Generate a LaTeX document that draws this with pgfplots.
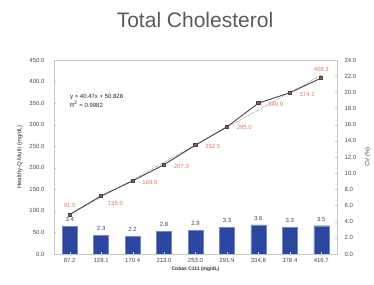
\documentclass[border=0pt]{standalone}
\usepackage{fontspec}
\setmainfont{Liberation Sans}
\usepackage{pgfplots}
\pgfplotsset{compat=1.18}
\definecolor{barblue}{HTML}{2C47A0}
\definecolor{baredge}{HTML}{7088CC}
\definecolor{linecol}{HTML}{4F4040}
\definecolor{lblred}{HTML}{E07A62}
\definecolor{axgray}{HTML}{C8C8C8}
\definecolor{tickgray}{HTML}{4A4A4A}
\definecolor{titlegray}{HTML}{5A5A5A}
\definecolor{barlbl}{HTML}{3A4670}
\begin{document}
\begin{tikzpicture}[x=1pt,y=1pt]
\useasboundingbox (0,0) rectangle (374,284);
\node[font=\fontsize{21}{24}\selectfont, text=titlegray] at (195,264) {Total Cholesterol};
% bars on right axis
\begin{axis}[at={(54pt,30pt)}, anchor=south west, scale only axis,
  width=283pt, height=194pt,
  xmin=-0.5, xmax=8.5, ymin=0, ymax=24,
  ytick={0,2,...,24},
  hide x axis, axis y line*=right,
  y axis line style={axgray},
  major tick length=2pt, tick style={axgray},
  yticklabel style={font=\fontsize{6}{7}\selectfont, text=tickgray, xshift=4pt},
  /pgf/number format/assume math mode=true,
  yticklabel={\pgfmathprintnumber[fixed,precision=1,fixed zerofill]{\tick}},
  ylabel={CV (\%)}, ylabel style={font=\fontsize{6}{7}\selectfont, text=tickgray, yshift=-2pt},
  ]
\addplot[ybar, bar width=15pt, fill=barblue, draw=baredge,
  nodes near coords={\pgfmathprintnumber[fixed,precision=1,fixed zerofill]{\pgfplotspointmeta}},
  every node near coord/.append style={font=\fontsize{6}{7}\selectfont, text=barlbl, yshift=1pt}]
  coordinates {(0,3.4) (1,2.3) (2,2.2) (3,2.8) (4,2.9) (5,3.3) (6,3.6) (7,3.3) (8,3.5)};
\end{axis}
% line on left axis
\begin{axis}[at={(54pt,30pt)}, anchor=south west, scale only axis,
  width=283pt, height=194pt,
  xmin=-0.5, xmax=8.5, ymin=0, ymax=450,
  ytick={0,50,...,450},
  xtick={0,...,8},
  xticklabels={87.2,128.1,170.4,213.0,253.0,291.9,334.8,378.4,416.7},
  ytick pos=left, xtick pos=bottom,
  axis line style={axgray},
  major tick length=2pt, tick style={axgray},
  yticklabel style={font=\fontsize{6}{7}\selectfont, text=tickgray, xshift=-6pt},
  xticklabel style={font=\fontsize{6}{7}\selectfont, text=tickgray, yshift=-1pt},
  /pgf/number format/assume math mode=true,
  yticklabel={\pgfmathprintnumber[fixed,precision=1,fixed zerofill]{\tick}},
  ylabel={Healthy-Q Multi (mg/dL)},
  ylabel style={font=\fontsize{6}{7}\selectfont, text=black!80, yshift=0pt},
  xlabel={\textbf{Cobas C111 (mg/dL)}},
  xlabel style={font=\fontsize{5}{6}\selectfont, text=black!80, yshift=3pt},
  clip=false,
  ]
% trendline y = 40.47x + 50.828 (x = 1..9)
\addplot[densely dotted, black!70, line width=0.5pt] coordinates {(0,91.3) (8,415.1)};
\addplot[linecol, line width=0.9pt, mark=square*, mark size=1.6pt, mark options={fill=linecol!80}]
  coordinates {(0,91.5) (1,135.0) (2,169.5) (3,207.3) (4,252.5) (5,295.0) (6,349.9) (7,374.1) (8,408.3)};
\begin{scope}[font=\fontsize{6}{7}\selectfont, text=lblred]
\node[anchor=south] at (axis cs:0,100) {91.5};
\node[anchor=north west] at (axis cs:1.1,130) {135.0};
\node[anchor=west] at (axis cs:2.2,166) {169.5};
\node[anchor=west] at (axis cs:3.2,204) {207.3};
\node[anchor=west] at (axis cs:4.2,250) {252.5};
\node[anchor=west] at (axis cs:5.2,293) {295.0};
\node[anchor=west] at (axis cs:6.2,347) {349.9};
\node[anchor=west] at (axis cs:7.2,371) {374.1};
\node[anchor=south] at (axis cs:8,414) {408.3};
\end{scope}
\node[anchor=west, font=\fontsize{6}{7}\selectfont, align=left, text=black!85] at (axis cs:-0.1,355)
  {y = 40.47x + 50.828\\R\textsuperscript{2} = 0.9982};
\end{axis}
\end{tikzpicture}
\end{document}
